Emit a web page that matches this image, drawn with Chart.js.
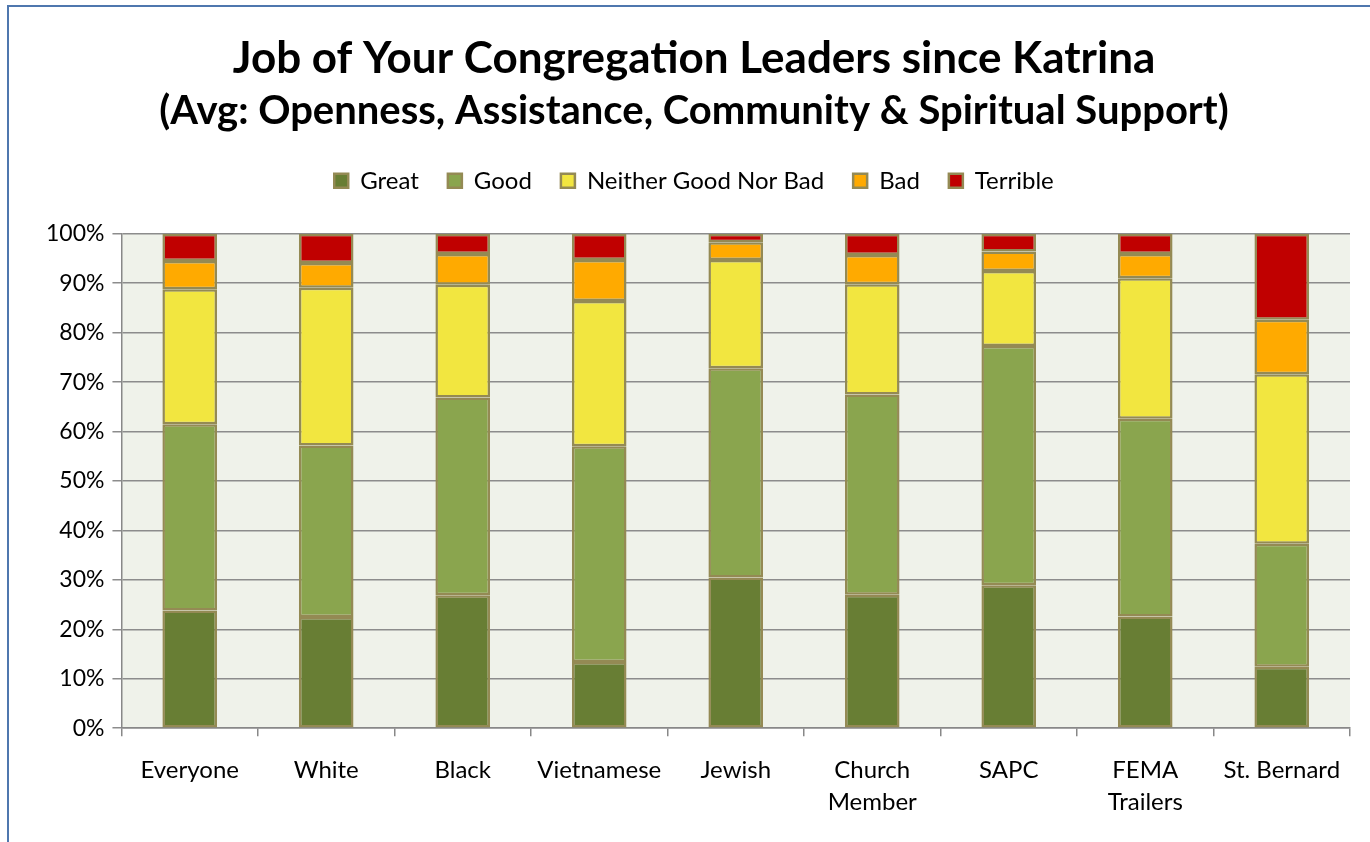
<!DOCTYPE html>
<html>
<head>
<meta charset="utf-8">
<script src="https://cdn.jsdelivr.net/npm/chart.js@4"></script>
<style>
  html, body { margin:0; padding:0; background:#fff; overflow:hidden; }
  #wrap { position:relative; width:1370px; height:842px; }
  #frame { position:absolute; left:7px; top:5px; width:1400px; height:900px; border:2px solid #4F77AE; box-sizing:border-box; pointer-events:none; }
</style>
</head>
<body>
<div id="wrap">
  <canvas id="chart" width="1370" height="842"></canvas>
  <div id="frame"></div>
</div>
<script>
// ─── DATA ─────────────────────────────────────────────────────────────────────
const GROUPS   = ['Everyone', 'White', 'Black', 'Vietnamese', 'Jewish', ['Church', 'Member'], 'SAPC', ['FEMA', 'Trailers'], 'St. Bernard'];
const GREAT    = [23.8, 22.5, 26.9, 13.4, 30.5, 27.0, 28.9, 22.6, 12.4];
const GOOD     = [37.7, 34.7, 40.0, 43.6, 42.3, 40.5, 48.4, 40.0, 24.9];
const NEITHER  = [27.3, 31.9, 22.8, 29.4, 21.9, 22.3, 15.2, 28.4, 34.3];
const BAD      = [ 5.7,  5.0,  6.2,  8.3,  3.6,  5.9,  3.9,  4.9, 11.0];
const TERRIBLE = [ 5.5,  5.9,  4.1,  5.3,  1.7,  4.3,  3.6,  4.1, 17.4];
const Y_TICKS  = [0, 10, 20, 30, 40, 50, 60, 70, 80, 90, 100];

const FONT = 'Lato, "Open Sans", sans-serif';
const EDGE = '#948A54';

// plot-area fill
const plotBg = {
  id: 'plotBg',
  beforeDraw(c) {
    const a = c.chartArea, x = c.ctx;
    x.save();
    x.fillStyle = '#EFF2EA';
    x.fillRect(a.left, a.top, a.right - a.left, a.bottom - a.top);
    x.restore();
  }
};

// extra room under the legend
const legendGap = {
  id: 'legendGap',
  beforeInit(c) {
    const fit = c.legend.fit;
    c.legend.fit = function () { fit.call(this); this.height += 31; };
  }
};

const ds = (label, data, color) => ({
  label, data, backgroundColor: color, borderColor: EDGE, borderWidth: 2.5, borderSkipped: false,
  barPercentage: 0.4, categoryPercentage: 1.0
});

new Chart(document.getElementById('chart').getContext('2d'), {
  type: 'bar',
  data: {
    labels: GROUPS,
    datasets: [
      ds('Great', GREAT, '#687E34'),
      ds('Good', GOOD, '#8AA54E'),
      ds('Neither Good Nor Bad', NEITHER, '#F2E640'),
      ds('Bad', BAD, '#FFAA00'),
      ds('Terrible', TERRIBLE, '#C00000')
    ]
  },
  plugins: [plotBg, legendGap],
  options: {
    responsive: false, animation: false,
    layout: { padding: { left: 38, right: 20, top: 20, bottom: 6 } },
    plugins: {
      title: { display: true, text: 'Job of Your Congregation Leaders since Katrina', color: '#000',
               font: { family: FONT, size: 44, weight: 'bold' }, padding: { top: 12, bottom: 2 } },
      subtitle: { display: true, text: '(Avg: Openness, Assistance, Community & Spiritual Support)', color: '#000',
                  font: { family: FONT, size: 40, weight: 'bold' }, padding: { bottom: 5 } },
      legend: { position: 'top',
                labels: { boxWidth: 14, boxHeight: 14, color: '#000', padding: 29,
                          font: { family: FONT, size: 24 } } },
      tooltip: { enabled: false }
    },
    scales: {
      x: { stacked: true,
           grid: { offset: true, drawOnChartArea: false, drawTicks: true, tickLength: 8, color: '#888', lineWidth: 1.5 },
           border: { color: '#888', width: 1.5 },
           ticks: { color: '#000', font: { family: FONT, size: 24, lineHeight: 1.33 }, padding: 18, maxRotation: 0 } },
      y: { stacked: true, min: 0, max: 100,
           afterBuildTicks: ax => { ax.ticks = Y_TICKS.map(v => ({ value: v })); },
           grid: { color: '#8C8C8C', lineWidth: 1.5, tickLength: 9 },
           border: { color: '#888', width: 1.5 },
           ticks: { color: '#000', font: { family: FONT, size: 23 }, padding: 8, callback: v => v + '%' } }
    }
  }
});
</script>
</body>
</html>
